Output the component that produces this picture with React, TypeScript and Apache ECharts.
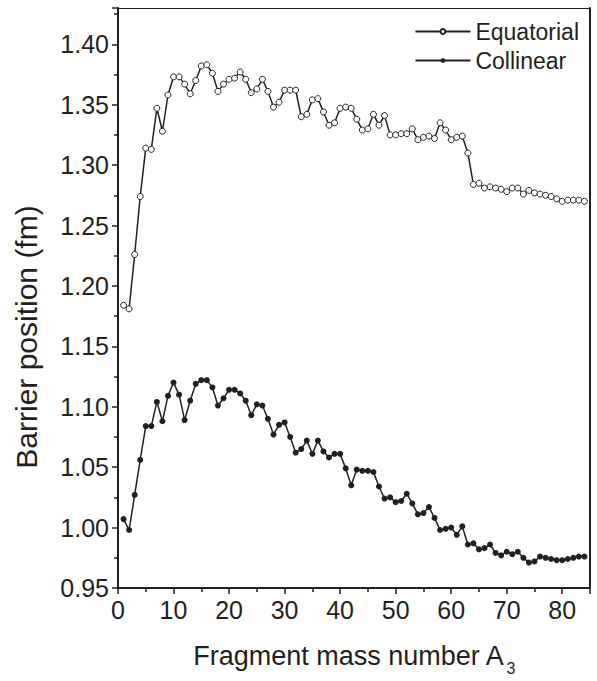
import React, { useEffect, useRef } from "react";
import * as echarts from "echarts";

const massNumbers = [
  1, 2, 3, 4, 5, 6, 7, 8, 9, 10, 11, 12, 13, 14, 15, 16, 17, 18, 19, 20,
  21, 22, 23, 24, 25, 26, 27, 28, 29, 30, 31, 32, 33, 34, 35, 36, 37, 38, 39, 40,
  41, 42, 43, 44, 45, 46, 47, 48, 49, 50, 51, 52, 53, 54, 55, 56, 57, 58, 59, 60,
  61, 62, 63, 64, 65, 66, 67, 68, 69, 70, 71, 72, 73, 74, 75, 76, 77, 78, 79, 80,
  81, 82, 83, 84,
];

const equatorial = [
  1.184, 1.181, 1.226, 1.274, 1.314, 1.313, 1.347, 1.328, 1.358, 1.373,
  1.373, 1.367, 1.359, 1.370, 1.382, 1.383, 1.376, 1.361, 1.367, 1.371,
  1.372, 1.377, 1.371, 1.360, 1.363, 1.371, 1.361, 1.348, 1.352, 1.362,
  1.362, 1.362, 1.340, 1.342, 1.354, 1.355, 1.344, 1.333, 1.335, 1.347,
  1.348, 1.347, 1.338, 1.329, 1.330, 1.342, 1.333, 1.341, 1.325, 1.325,
  1.326, 1.326, 1.330, 1.321, 1.323, 1.324, 1.322, 1.335, 1.329, 1.321,
  1.323, 1.324, 1.310, 1.284, 1.285, 1.281, 1.282, 1.281, 1.280, 1.278,
  1.281, 1.281, 1.276, 1.279, 1.277, 1.276, 1.275, 1.274, 1.272, 1.270,
  1.271, 1.271, 1.271, 1.270,
];

const collinear = [
  1.007, 0.998, 1.027, 1.056, 1.084, 1.084, 1.104, 1.088, 1.109, 1.120,
  1.110, 1.089, 1.105, 1.119, 1.122, 1.122, 1.116, 1.101, 1.107, 1.114,
  1.114, 1.111, 1.105, 1.093, 1.102, 1.101, 1.090, 1.077, 1.085, 1.087,
  1.075, 1.062, 1.065, 1.072, 1.061, 1.072, 1.063, 1.058, 1.061, 1.061,
  1.049, 1.035, 1.048, 1.047, 1.047, 1.046, 1.034, 1.024, 1.025, 1.021,
  1.022, 1.028, 1.020, 1.011, 1.012, 1.017, 1.008, 0.998, 0.999, 1.000,
  0.994, 1.001, 0.986, 0.987, 0.982, 0.983, 0.986, 0.979, 0.977, 0.980,
  0.978, 0.980, 0.975, 0.971, 0.972, 0.976, 0.975, 0.974, 0.973, 0.973,
  0.974, 0.975, 0.976, 0.976,
];

const seriesNames = ["Equatorial", "Collinear"];
const xTitle = "Fragment mass number A";
const xTitleSub = "3";
const yTitle = "Barrier position (fm)";

const INK = "#231f20";
const FONT = "'Liberation Sans', Arial, sans-serif";

export default function App() {
  const ref = useRef<HTMLDivElement>(null);

  useEffect(() => {
    if (!ref.current) return;
    const chart = echarts.init(ref.current, undefined, { renderer: "svg" });
    const pairs = (ys: number[]) => massNumbers.map((x, i) => [x, ys[i]]);

    chart.setOption({
      animation: false,
      backgroundColor: "#ffffff",
      textStyle: { fontFamily: FONT, color: INK },
      grid: { left: 118, right: 7, top: 8, bottom: 87, containLabel: false },
      legend: {
        orient: "vertical",
        right: 18,
        top: 20,
        padding: 0,
        itemGap: 6,
        itemWidth: 55,
        itemHeight: 6,
        align: "left",
        textStyle: { fontFamily: FONT, fontSize: 23, color: INK },
        data: seriesNames,
      },
      graphic: [
        {
          type: "text",
          x: 26,
          y: 337,
          rotation: Math.PI / 2,
          style: {
            text: yTitle,
            font: `30px ${FONT}`,
            fill: INK,
            textAlign: "center",
            textVerticalAlign: "middle",
          },
        },
      ],
      xAxis: [
        {
          type: "value",
          min: 0,
          max: 85,
          interval: 10,
          position: "bottom",
          name: `{m|${xTitle}}{s|${xTitleSub}}`,
          nameLocation: "middle",
          nameGap: 47,
          nameTextStyle: {
            rich: {
              m: { fontFamily: FONT, fontSize: 27, color: INK, lineHeight: 32 },
              s: {
                fontFamily: FONT,
                fontSize: 16,
                color: INK,
                verticalAlign: "top",
                padding: [25, 0, 0, 2],
              },
            },
          },
          axisLine: { show: true, onZero: false, lineStyle: { color: INK, width: 2 } },
          axisTick: { show: true, inside: false, length: 6, lineStyle: { color: INK, width: 1.5 } },
          minorTick: { show: true, splitNumber: 2, length: 4, lineStyle: { color: INK, width: 1.5 } },
          axisLabel: {
            fontFamily: FONT,
            fontSize: 25,
            color: INK,
            margin: 9,
            showMaxLabel: false,
          },
          splitLine: { show: false },
        },
        {
          type: "value",
          min: 0,
          max: 85,
          position: "top",
          axisLine: { show: true, onZero: false, lineStyle: { color: INK, width: 1 } },
          axisTick: { show: false },
          axisLabel: { show: false },
          splitLine: { show: false },
        },
      ],
      yAxis: [
        {
          type: "value",
          min: 0.95,
          max: 1.43,
          interval: 0.05,
          position: "left",
          axisLine: { show: true, onZero: false, lineStyle: { color: INK, width: 2 } },
          axisTick: { show: true, inside: false, length: 6, lineStyle: { color: INK, width: 1.5 } },
          minorTick: { show: true, splitNumber: 2, length: 4, lineStyle: { color: INK, width: 1.5 } },
          axisLabel: {
            fontFamily: FONT,
            fontSize: 25,
            color: INK,
            margin: 9,
            showMaxLabel: false,
            formatter: (v: number) => v.toFixed(2),
          },
          splitLine: { show: false },
        },
        {
          type: "value",
          min: 0.95,
          max: 1.43,
          position: "right",
          axisLine: { show: true, onZero: false, lineStyle: { color: INK, width: 2 } },
          axisTick: { show: false },
          axisLabel: { show: false },
          splitLine: { show: false },
        },
      ],
      series: [
        {
          name: seriesNames[0],
          type: "line",
          xAxisIndex: 0,
          yAxisIndex: 0,
          data: pairs(equatorial),
          symbol: "circle",
          symbolSize: 6,
          showSymbol: true,
          lineStyle: { color: INK, width: 1.5 },
          itemStyle: { color: "#ffffff", borderColor: INK, borderWidth: 1 },
        },
        {
          name: seriesNames[1],
          type: "line",
          xAxisIndex: 0,
          yAxisIndex: 0,
          data: pairs(collinear),
          symbol: "circle",
          symbolSize: 6,
          showSymbol: true,
          lineStyle: { color: INK, width: 1.5 },
          itemStyle: { color: INK, borderColor: INK, borderWidth: 0 },
        },
      ],
    });

    return () => chart.dispose();
  }, []);

  return (
    <div
      ref={ref}
      style={{ position: "fixed", left: 0, top: 0, width: 597, height: 681, background: "#fff" }}
    />
  );
}
